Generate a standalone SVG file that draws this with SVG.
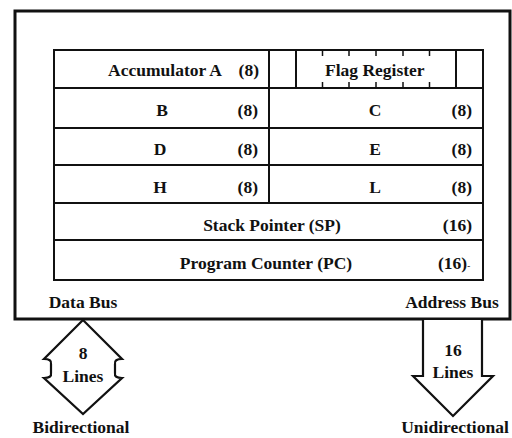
<svg xmlns="http://www.w3.org/2000/svg" width="512" height="438" viewBox="0 0 512 438">
<style>
text{font-family:"Liberation Serif","Times New Roman",serif;font-weight:bold;font-size:17.5px;fill:#111}
.box{fill:none;stroke:#111;stroke-width:2}
.outer{fill:#fff;stroke:#111;stroke-width:3}
.ln{stroke:#111;stroke-width:2;fill:none}
.tk{stroke:#111;stroke-width:1.5}
.m{text-anchor:middle}
.e{text-anchor:end}
.bus{fill:#fff;stroke:#111;stroke-width:2.2;stroke-linejoin:miter}
</style>
<rect width="512" height="438" fill="#fff"/>
<g id="cpu">
<rect class="outer" x="15" y="11" width="495" height="308"/>
</g>
<g id="registers">
<rect class="box" x="54" y="50" width="429" height="230"/>
<line class="ln" x1="54" y1="88" x2="483" y2="88"/>
<line class="ln" x1="54" y1="128" x2="483" y2="128"/>
<line class="ln" x1="54" y1="165" x2="483" y2="165"/>
<line class="ln" x1="54" y1="203" x2="483" y2="203"/>
<line class="ln" x1="54" y1="240" x2="483" y2="240"/>
<line class="ln" x1="269" y1="50" x2="269" y2="203"/>
</g>
<g id="acc">
<text class="e" x="222" y="76">Accumulator A</text>
<text class="e" x="259" y="76">(8)</text>
</g>
<g id="flag">
<line class="ln" x1="296" y1="50" x2="296" y2="88"/>
<line class="ln" x1="456" y1="50" x2="456" y2="88"/>
<g class="tk">
<line x1="322.5" y1="50" x2="322.5" y2="56"/><line x1="349" y1="50" x2="349" y2="56"/><line x1="376" y1="50" x2="376" y2="56"/><line x1="403" y1="50" x2="403" y2="56"/><line x1="429.5" y1="50" x2="429.5" y2="56"/>
<line x1="322.5" y1="82" x2="322.5" y2="88"/><line x1="349" y1="82" x2="349" y2="88"/><line x1="376" y1="82" x2="376" y2="88"/><line x1="403" y1="82" x2="403" y2="88"/><line x1="429.5" y1="82" x2="429.5" y2="88"/>
</g>
<text x="325" y="76">Flag Register</text>
</g>
<g id="regB"><text class="m" x="162" y="116">B</text><text class="e" x="258" y="116">(8)</text></g>
<g id="regC"><text class="m" x="375" y="116">C</text><text class="e" x="472" y="116">(8)</text></g>
<g id="regD"><text class="m" x="160" y="155">D</text><text class="e" x="258" y="155">(8)</text></g>
<g id="regE"><text class="m" x="375" y="155">E</text><text class="e" x="472" y="155">(8)</text></g>
<g id="regH"><text class="m" x="160" y="193">H</text><text class="e" x="258" y="193">(8)</text></g>
<g id="regL"><text class="m" x="375" y="193">L</text><text class="e" x="472" y="193">(8)</text></g>
<g id="sp"><text class="m" x="272" y="231">Stack Pointer (SP)</text><text class="e" x="472" y="231">(16)</text></g>
<g id="pc"><text class="m" x="266" y="269">Program Counter (PC)</text><text x="438" y="269">(16)<tspan font-size="9">-</tspan></text></g>
<g id="labels">
<text class="m" x="83" y="308">Data Bus</text>
<text class="m" x="452" y="308">Address Bus</text>
</g>
<g id="connectors">
<path class="bus" d="M83,320 L44,359 Q52,359 51,364 L51,373 Q52,378 44,378 L83,414 L122,378 Q114,378 115,373 L115,364 Q114,359 122,359 Z"/>
<path class="bus" d="M423,320 L423,376 L413,376 L453,416 L493,376 L482,376 L482,320"/>
<text class="m" x="83" y="359">8</text>
<text class="m" x="83" y="382">Lines</text>
<text class="m" x="453" y="356">16</text>
<text class="m" x="453" y="378">Lines</text>
<text class="m" x="81" y="433">Bidirectional</text>
<text class="m" x="455" y="433">Unidirectional</text>
</g>
</svg>
